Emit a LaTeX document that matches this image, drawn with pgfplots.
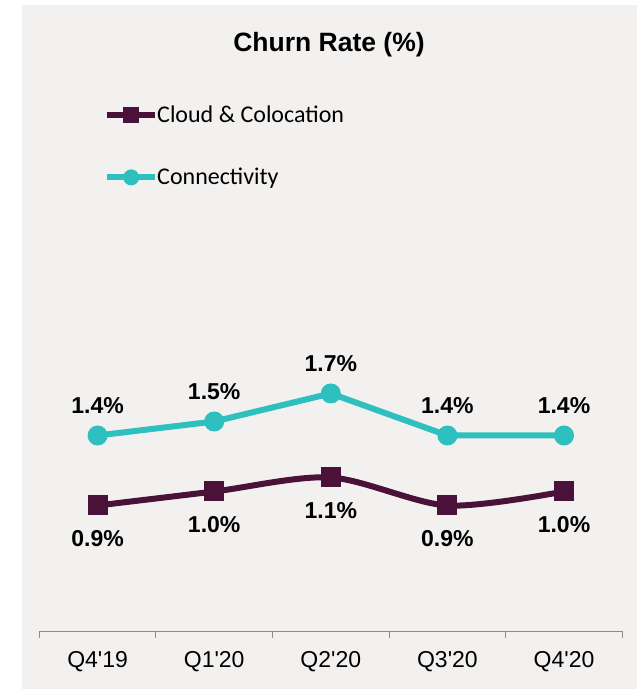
\documentclass[border=0pt]{standalone}
\usepackage{pgfplots}
\pgfplotsset{compat=1.18}
\usepackage{fontspec}
\setmainfont{Liberation Sans}
\newfontfamily\calibri{Carlito}
\definecolor{bg}{HTML}{F2F1F0}
\definecolor{cloud}{HTML}{4A1239}
\definecolor{conn}{HTML}{2EC0BE}
\definecolor{axgray}{HTML}{8C8C8C}
\begin{document}
\begin{tikzpicture}[x=1bp,y=1bp]
\path[use as bounding box] (0,0) rectangle (637,689);
\fill[bg] (22,0) rectangle (637,684);
\node[font=\fontsize{26.5bp}{30bp}\selectfont\bfseries] at (329,644) {Churn Rate (\%)};
\begin{axis}[
  at={(39.3bp,57.5bp)}, anchor=south west,
  scale only axis, width=583bp, height=571.5bp,
  xmin=-0.5, xmax=4.5, ymin=0, ymax=4.0821,
  axis y line=none, axis x line*=bottom,
  axis line style={axgray, line width=1bp, -},
  xtick={0,1,2,3,4},
  xticklabels={Q4\textquotesingle19,Q1\textquotesingle20,Q2\textquotesingle20,Q3\textquotesingle20,Q4\textquotesingle20},
  major tick length=0pt,
  extra x ticks={-0.5,0.5,1.5,2.5,3.5,4.5}, extra x tick labels={},
  extra x tick style={tick align=outside, major tick length=6bp, tick style={axgray,line width=1bp}},
  xticklabel style={font=\fontsize{23bp}{27bp}\selectfont, anchor=base, yshift=-36.5bp},
  clip=false,
  point meta=explicit symbolic,
  legend cell align=left,
  legend style={at={(0.111,0.9195)}, anchor=north west, draw=none, fill=none,
    font=\calibri\fontsize{24bp}{28bp}\selectfont, row sep=44bp, inner sep=0pt,
    nodes={inner sep=0pt}, column sep=-1bp},
  legend image code/.code={\draw[mark repeat=2,mark phase=2,mark size=7.5bp] plot coordinates {(0bp,0bp) (24bp,0bp) (48bp,0bp)};},
]
\addplot[cloud, line width=6bp, smooth, tension=0.5, mark=square*, mark size=9.5bp,
  mark options={solid, line width=1bp},
  nodes near coords, every node near coord/.append style={font=\fontsize{23bp}{27bp}\selectfont\bfseries, text=black, anchor=center, yshift=-33bp}]
  coordinates {(0,0.9)[0.9\%] (1,1.0)[1.0\%] (2,1.1)[1.1\%] (3,0.9)[0.9\%] (4,1.0)[1.0\%]};
\addlegendentry{Cloud \& Colocation}
\addplot[conn, line width=6bp, mark=*, mark size=9.5bp,
  mark options={solid, line width=1bp},
  nodes near coords, every node near coord/.append style={font=\fontsize{23bp}{27bp}\selectfont\bfseries, text=black, anchor=center, yshift=30bp}]
  coordinates {(0,1.4)[1.4\%] (1,1.5)[1.5\%] (2,1.7)[1.7\%] (3,1.4)[1.4\%] (4,1.4)[1.4\%]};
\addlegendentry{Connectivity}
\end{axis}
\end{tikzpicture}
\end{document}
